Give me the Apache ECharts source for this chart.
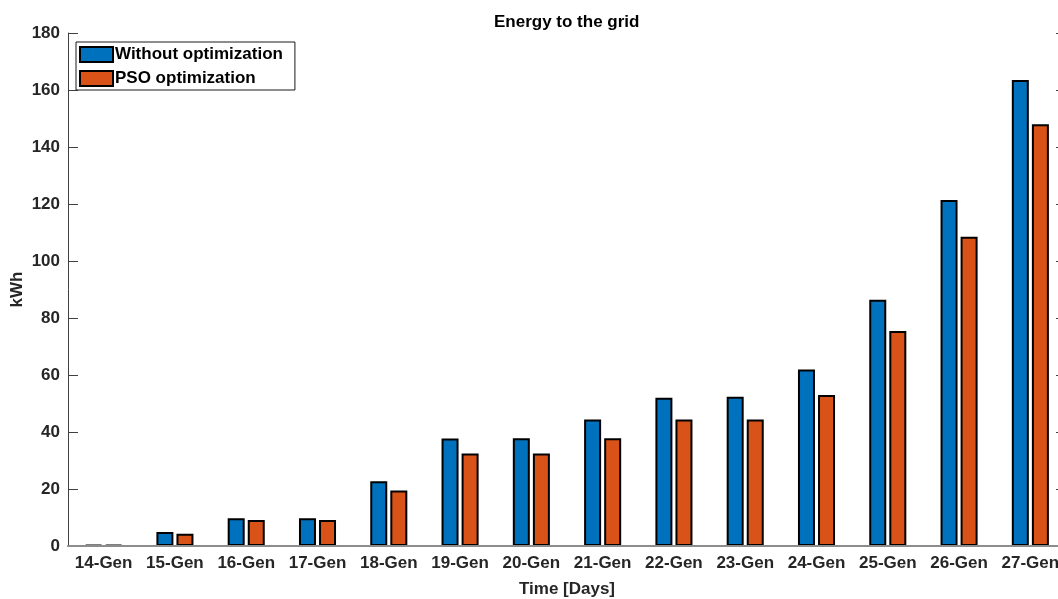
<!DOCTYPE html>
<html>
<head>
<meta charset="utf-8">
<title>Energy to the grid</title>
<script src="https://cdn.jsdelivr.net/npm/echarts@6/dist/echarts.min.js"></script>
<style>
  html, body { margin: 0; padding: 0; background: #fff; overflow: hidden; }
  #main { width: 1066px; height: 599px; }
</style>
</head>
<body>
<div id="main"></div>
<script>
// days on the x axis
var days = ['14-Gen', '15-Gen', '16-Gen', '17-Gen', '18-Gen', '19-Gen', '20-Gen',
            '21-Gen', '22-Gen', '23-Gen', '24-Gen', '25-Gen', '26-Gen', '27-Gen'];
// kWh sent to the grid
var withoutOpt = [0.4, 4.9, 9.7, 9.7, 22.7, 37.7, 37.8, 44.4, 52.0, 52.4, 61.9, 86.4, 121.4, 163.5];
var psoOpt     = [0.4, 4.3, 9.1, 9.1, 19.5, 32.5, 32.5, 37.8, 44.4, 44.4, 53.0, 75.4, 108.5, 148.0];

var fontTxt = { fontFamily: 'Liberation Sans, Arial, sans-serif', fontWeight: 'bold', fontSize: 17, color: '#262626' };

var myChart = echarts.init(document.getElementById('main'));

var option = {
    backgroundColor: '#fff',
    animation: false,
    title: {
        text: 'Energy to the grid',
        left: 489,
        top: 9,
        textStyle: { fontFamily: 'Liberation Sans, Arial, sans-serif', fontWeight: 'bold', fontSize: 17, color: '#000' }
    },
    legend: {
        orient: 'vertical',
        left: 76,
        top: 42,
        padding: [4, 12, 3, 3],
        itemGap: 7,
        itemWidth: 33,
        itemHeight: 15,
        backgroundColor: '#fff',
        borderColor: '#1a1a1a',
        borderWidth: 1,
        icon: 'rect',
        textStyle: { fontFamily: 'Liberation Sans, Arial, sans-serif', fontWeight: 'bold', fontSize: 17, color: '#000', padding: [0, 0, 0, -3] },
        data: ['Without optimization', 'PSO optimization']
    },
    grid: { left: 68, right: 0, top: 33, bottom: 53, outerBoundsMode: 'none' },
    xAxis: [{
        type: 'category',
        data: days,
        position: 'bottom',
        name: 'Time [Days]',
        nameLocation: 'middle',
        nameGap: 35,
        nameTextStyle: fontTxt,
        axisLine: { lineStyle: { color: '#8c8c8c', width: 2 } },
        axisTick: { inside: true, length: 10, interval: 0, alignWithLabel: true, lineStyle: { color: '#262626', width: 1 } },
        axisLabel: Object.assign({ margin: 9, interval: 0 }, fontTxt),
        z: 10
    }, {
        type: 'category',
        data: days,
        position: 'top',
        axisLine: { lineStyle: { color: '#8c8c8c', width: 1.5 } },
        axisTick: { inside: true, length: 10, interval: 0, alignWithLabel: true, lineStyle: { color: '#555', width: 1 } },
        axisLabel: { show: false }
    }],
    yAxis: [{
        type: 'value',
        min: 0,
        max: 180,
        interval: 20,
        name: 'kWh',
        nameLocation: 'middle',
        nameGap: 42,
        nameMoveOverlap: false,
        nameTextStyle: fontTxt,
        splitLine: { show: false },
        axisLine: { show: true, lineStyle: { color: '#404040', width: 1 } },
        axisTick: { show: true, inside: true, length: 10, lineStyle: { color: '#404040' } },
        axisLabel: Object.assign({ margin: 8 }, fontTxt)
    }, {
        type: 'value',
        min: 0,
        max: 180,
        interval: 20,
        position: 'right',
        splitLine: { show: false },
        axisLine: { show: true, lineStyle: { color: '#404040', width: 1 } },
        axisTick: { show: true, inside: true, length: 10, lineStyle: { color: '#404040' } },
        axisLabel: { show: false }
    }],
    series: [{
        name: 'Without optimization',
        type: 'bar',
        data: withoutOpt,
        barWidth: 17,
        barGap: '18%',
        itemStyle: { color: '#0072BD', borderColor: '#000', borderWidth: 2 }
    }, {
        name: 'PSO optimization',
        type: 'bar',
        data: psoOpt,
        barWidth: 17,
        itemStyle: { color: '#D95319', borderColor: '#000', borderWidth: 2 }
    }]
};

myChart.setOption(option);
</script>
</body>
</html>
